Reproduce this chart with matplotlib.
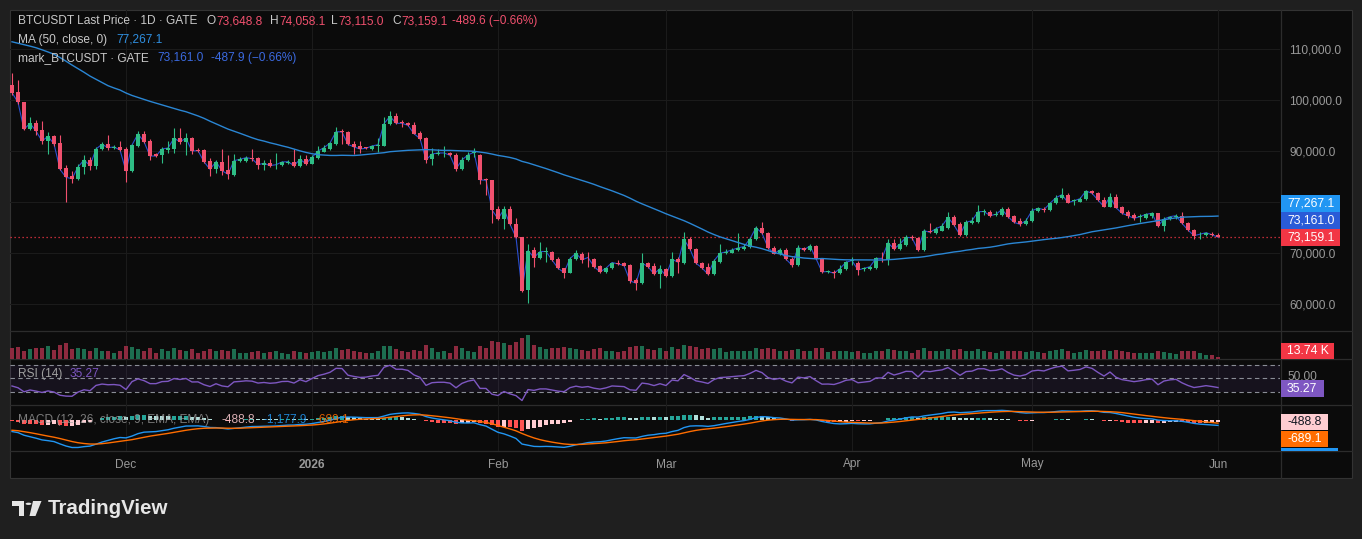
import numpy as np
import pandas as pd
import matplotlib
matplotlib.use("Agg")
import matplotlib.pyplot as plt
from matplotlib.patches import Rectangle, Polygon, Circle
from matplotlib.lines import Line2D

W, H = 1362, 539
FONT = "Liberation Sans"

# ---------------- data ----------------
start_date = "2025-11-12"

opens = [103000, 101560, 99600, 94380, 95490, 94110, 92090, 92940, 91570, 86730,
         85160, 84640, 86860, 88300, 87190, 90390, 91370, 90720, 90850, 90460,
         86210, 91110, 93400, 92090, 89410, 89220, 90260, 90520, 92550, 91890,
         92610, 90330, 90260, 88100, 86470, 87970, 86340, 85430, 88170, 88170,
         88690, 88690, 87380, 87650, 87250, 87250, 87710, 87840, 87190, 88500,
         87580, 88690, 89930, 90460, 91500, 93920, 93790, 91370, 90980, 90650,
         90390, 90980, 91040, 95360, 96860, 95680, 95620, 95160, 93590, 92610,
         88430, 89410, 89600, 89610, 89220, 86560, 88320, 89750, 89300, 84530,
         84400, 78650, 76760, 78720, 75780, 73160, 62840, 70680, 69050, 70250,
         70290, 68850, 67090, 66240, 68850, 69900, 69300, 68920, 67550, 66370,
         67090, 68200, 68070, 67680, 64800, 64150, 68070, 67550, 65910, 66890,
         65590, 68920, 68200, 72770, 70940, 68200, 67420, 65910, 68400, 70030,
         70160, 70620, 70880, 71200, 72840, 75060, 74080, 71140, 69900, 70680,
         68920, 67680, 71070, 70680, 71470, 68980, 66400, 66440, 66110, 66890,
         68500, 68050, 66950, 66870, 67070, 69030, 68700, 71970, 70860, 71640,
         73100, 73080, 70660, 74450, 73930, 74450, 74910, 77060, 75760, 73600,
         75890, 76210, 78170, 78170, 77450, 77520, 78630, 77320, 76340, 75690,
         76340, 78300, 78700, 78500, 79810, 80790, 81500, 80250, 80130, 80590,
         82220, 81770, 80460, 79150, 81110, 79020, 78040, 77520, 77150, 76870,
         77320, 77850, 75430, 76670, 77060, 77320, 76020, 74580, 73700, 73600,
         73760, 73648.8]
highs = [105290, 103980, 99750, 96660, 96140, 96010, 93720, 93130, 93130, 87320,
         86140, 87520, 89280, 88950, 90910, 91890, 93130, 91240, 92020, 90780,
         91440, 94050, 94050, 92480, 89670, 90910, 91960, 94500, 94500, 93530,
         92870, 90590, 90390, 88760, 88300, 90460, 89280, 89480, 88820, 89020,
         90520, 88820, 88300, 88430, 89740, 88100, 88230, 90460, 89280, 89280,
         89220, 91040, 91170, 91890, 94700, 94370, 94050, 92090, 92020, 90910,
         91300, 92550, 96790, 97840, 97450, 96140, 95810, 95680, 93920, 92870,
         90590, 90460, 91040, 89800, 89610, 88970, 89950, 90610, 89400, 84700,
         84450, 79310, 79310, 79310, 76890, 73300, 71860, 71340, 72320, 71340,
         70550, 69380, 67150, 69380, 70680, 70360, 70360, 69050, 67740, 67420,
         68400, 68720, 68400, 67870, 65130, 70030, 68400, 68070, 67740, 67220,
         70360, 69380, 74140, 73300, 71140, 68400, 68070, 68850, 71860, 70810,
         71010, 73950, 71860, 73300, 75380, 76100, 74270, 71470, 71010, 71010,
         69240, 71660, 71340, 71860, 71660, 69110, 66760, 66760, 67740, 68530,
         69350, 68570, 67390, 67600, 69220, 70330, 72820, 72820, 72950, 73600,
         73600, 73300, 74710, 76020, 75230, 76020, 78170, 77520, 76210, 76540,
         77190, 79480, 78630, 78500, 78300, 79020, 79020, 77520, 76870, 76870,
         78830, 79150, 79150, 80130, 81440, 82750, 81770, 80590, 80980, 82420,
         82420, 82090, 81110, 81900, 81640, 79280, 78500, 77850, 77650, 77850,
         78170, 77980, 77190, 77390, 77720, 78040, 76210, 74840, 74250, 74190,
         74250, 74058.1]
lows = [101000, 99300, 94100, 94200, 93200, 91440, 89410, 91100, 86340, 80140,
        83730, 84300, 85560, 86340, 86540, 90260, 90260, 90390, 90000, 83920,
        86000, 90900, 91700, 88300, 88820, 87780, 89740, 89610, 91500, 89350,
        89540, 89900, 87700, 85160, 85690, 85360, 84640, 85160, 88000, 87970,
        88170, 86540, 86400, 86860, 86540, 87100, 87580, 86860, 86860, 87400,
        87450, 88500, 89800, 90260, 91300, 91440, 91200, 89410, 89740, 90390,
        90200, 89930, 90980, 95200, 95290, 94830, 94900, 93300, 92300, 87780,
        87320, 89200, 88820, 89000, 86210, 86300, 88100, 88970, 83550, 81460,
        75910, 76500, 74730, 75500, 73000, 62520, 60230, 67420, 68900, 68400,
        68500, 66900, 65260, 66100, 68700, 68070, 67420, 67200, 66200, 66200,
        66950, 67800, 67450, 64150, 62840, 64000, 67200, 65800, 63170, 65400,
        65400, 66110, 68000, 70600, 67900, 67000, 65700, 65700, 68200, 69900,
        70000, 70400, 70700, 71000, 72600, 73800, 70900, 69800, 69700, 68700,
        67420, 67500, 70500, 70500, 68800, 66200, 66110, 65130, 65900, 66700,
        67720, 65760, 66540, 66700, 66900, 68370, 67720, 70700, 70700, 71500,
        72620, 70500, 70500, 74000, 73800, 74300, 74800, 75400, 73400, 73400,
        75700, 76000, 77520, 77200, 77390, 77400, 77000, 75900, 75360, 75550,
        76200, 78200, 78040, 78400, 79700, 80650, 79800, 79480, 80000, 80450,
        81600, 80300, 79000, 79000, 78800, 77700, 76870, 76540, 76210, 76700,
        76870, 75200, 74380, 76540, 76800, 75700, 74400, 72750, 72750, 73400,
        73500, 73115.0]
closes = [101500, 99600, 94310, 95490, 93980, 92020, 92940, 91440, 86470, 84900,
          84640, 86930, 88300, 87190, 90460, 91370, 90720, 90850, 90260, 86140,
          91240, 93400, 91890, 89080, 89080, 90460, 90650, 92550, 91890, 92550,
          90060, 90130, 87970, 86470, 87970, 86210, 85490, 88170, 88430, 88760,
          88560, 87380, 87650, 87190, 87380, 87910, 87970, 87190, 88430, 87580,
          88820, 90060, 90720, 91630, 93850, 93790, 91370, 90850, 90460, 90590,
          91040, 91300, 95420, 96860, 95490, 95490, 95090, 93460, 92480, 88300,
          89480, 89670, 89680, 89220, 86540, 88320, 89300, 89820, 84400, 84340,
          78520, 76760, 78650, 75710, 73160, 62710, 70550, 69180, 70360, 70360,
          68720, 67090, 66240, 68980, 70030, 68720, 69200, 67420, 66370, 67090,
          68200, 67940, 67610, 64610, 64150, 68070, 67420, 65980, 67020, 65590,
          68850, 68260, 72770, 70810, 68070, 67150, 65910, 68530, 70030, 70290,
          70680, 71070, 71340, 72840, 75060, 73950, 71140, 69960, 70680, 68850,
          67680, 71140, 70680, 71470, 68980, 66370, 66440, 66110, 67020, 68260,
          68600, 66740, 67050, 67390, 69030, 69000, 72100, 70860, 71840, 73140,
          73050, 70660, 74450, 74120, 74840, 75360, 77060, 75560, 73600, 76080,
          76410, 78170, 78200, 77390, 77650, 78630, 77190, 76080, 75690, 76410,
          78370, 78830, 78570, 79810, 80920, 81500, 79940, 80300, 80720, 82220,
          81770, 80460, 79150, 81110, 78960, 77850, 77390, 76870, 77200, 77650,
          77850, 75360, 76740, 77190, 77390, 75890, 74580, 73470, 73750, 74060,
          73648.7, 73159.1]
volumes_k = [80, 85, 60, 70, 75, 80, 90, 65, 100, 115,
             70, 75, 70, 60, 75, 55, 60, 40, 55, 90,
             85, 70, 60, 75, 45, 70, 55, 80, 65, 60,
             70, 45, 60, 70, 55, 65, 60, 70, 40, 45,
             50, 55, 45, 50, 55, 40, 35, 55, 50, 45,
             50, 55, 50, 60, 80, 65, 70, 60, 50, 40,
             45, 55, 95, 90, 70, 55, 50, 65, 60, 100,
             80, 50, 55, 45, 90, 80, 60, 50, 95, 80,
             130, 120, 110, 100, 120, 150, 170, 100, 85, 70,
             75, 80, 85, 80, 70, 65, 60, 70, 75, 60,
             55, 50, 55, 85, 90, 95, 70, 65, 80, 60,
             85, 70, 100, 90, 85, 70, 75, 70, 80, 50,
             55, 60, 55, 60, 75, 70, 80, 70, 60, 60,
             65, 70, 55, 60, 75, 80, 50, 55, 60, 55,
             50, 60, 40, 45, 55, 60, 70, 65, 60, 55,
             45, 65, 75, 60, 55, 60, 70, 65, 70, 60,
             55, 70, 55, 50, 45, 55, 60, 55, 55, 50,
             60, 50, 45, 55, 65, 70, 60, 45, 50, 65,
             55, 60, 65, 60, 65, 60, 50, 45, 40, 45,
             40, 60, 50, 40, 35, 55, 60, 55, 45, 30,
             25, 13.74]
# closes before the visible window (needed by the MA/RSI/MACD studies)
prior_closes = [115900, 115300, 115400, 116800, 116500, 117100, 115700, 115700, 115300, 112700,
                112000, 113300, 109000, 109600, 109700, 112100, 114400, 114100, 118600, 120600,
                122300, 122400, 123500, 124800, 121500, 123300, 121700, 113200, 110600, 115200,
                115300, 113100, 110800, 108200, 106500, 107200, 108600, 110600, 108500, 107600,
                110100, 111000, 111600, 114500, 114100, 112900, 110100, 108300, 109600, 110100,
                110600, 106500, 101600, 103900, 101300, 103400, 102300, 104700, 106000, 103000]

month_labels = ["Dec", "2026", "Feb", "Mar", "Apr", "May", "Jun"]
month_starts = ["2025-12-01", "2026-01-01", "2026-02-01", "2026-03-01",
                "2026-04-01", "2026-05-01", "2026-06-01"]
price_ticks = [60000, 70000, 90000, 100000, 110000]
grid_prices = [60000, 70000, 80000, 90000, 100000, 110000]
last_price = 73159.1

# ---------------- studies ----------------
def sma_series(a, n):
    out = np.full(len(a), np.nan)
    for i in range(n - 1, len(a)):
        out[i] = np.mean(a[i - n + 1:i + 1])
    return out

def ema_series(a, n):
    a = np.asarray(a, float)
    out = np.full(len(a), np.nan)
    idx = np.where(~np.isnan(a))[0]
    s = idx[0]
    out[s + n - 1] = np.mean(a[s:s + n])
    k = 2.0 / (n + 1)
    for i in range(s + n, len(a)):
        out[i] = a[i] * k + out[i - 1] * (1 - k)
    return out

def rma_series(a, n):
    out = np.full(len(a), np.nan)
    out[n - 1] = np.mean(a[:n])
    for i in range(n, len(a)):
        out[i] = (out[i - 1] * (n - 1) + a[i]) / n
    return out

all_close = np.array(prior_closes + closes, float)
P = len(prior_closes)
ma50 = sma_series(all_close, 50)[P:]
d = np.diff(all_close)
up = np.clip(d, 0, None)
dn = np.clip(-d, 0, None)
ru = rma_series(up, 14)
rd = rma_series(dn, 14)
rsi_all = np.concatenate([[np.nan], 100 - 100 / (1 + ru / rd)])
rsi = rsi_all[P:]
macd_all = ema_series(all_close, 12) - ema_series(all_close, 26)
sig_all = ema_series(macd_all, 9)
macd = macd_all[P:]
signal = sig_all[P:]
hist = macd - signal
hist_prev = (macd_all - sig_all)[P - 1:-1]

# ---------------- figure ----------------
n = len(closes)
x = np.arange(n)
dates = pd.date_range(start_date, periods=n, freq="D")
month_pos = [(pd.Timestamp(m) - dates[0]).days for m in month_starts]
XL = (-1 / 3, 211 + 1 / 3)

BG_OUT = "#1f1f1f"
BG = "#0b0b0b"
GRID = "#1b1b1b"
SEP = "#2c2c2c"
UP = "#2ebd85"
DOWN = "#f0506e"
VUP = "#1d6e50"
VDOWN = "#8e2a3f"
TXT = "#999999"

fig = plt.figure(figsize=(W / 100, H / 100), dpi=100, facecolor=BG_OUT)
renderer = fig.canvas.get_renderer()

def fx(px):
    return px / W

def fy(py):
    return 1 - py / H

def axes_px(x0, y0, x1, y1, z=1):
    ax = fig.add_axes([fx(x0), fy(y1), (x1 - x0) / W, (y1 - y0) / H], zorder=z)
    ax.set_facecolor("none")
    for s in ax.spines.values():
        s.set_visible(False)
    ax.set_xlim(*XL)
    ax.tick_params(left=False, bottom=False, right=False, labelleft=False, labelbottom=False)
    return ax

# chart background
fig.patches.append(Rectangle((fx(10), fy(478)), (1352 - 10) / W, (478 - 10) / H,
                             transform=fig.transFigure, facecolor=BG, edgecolor="#333333",
                             lw=0.8, zorder=0))

def hline(y, x0=10, x1=1352, c=SEP):
    fig.lines.append(Line2D([fx(x0), fx(x1)], [fy(y), fy(y)], transform=fig.transFigure,
                            color=c, lw=0.9, zorder=0.5))

def vline(xp, y0=10, y1=478, c=SEP):
    fig.lines.append(Line2D([fx(xp), fx(xp)], [fy(y0), fy(y1)], transform=fig.transFigure,
                            color=c, lw=0.9, zorder=0.5))

for yy in (331, 359, 405, 451):
    hline(yy)
vline(1280.5)

# ---- price pane ----
axp = axes_px(10, 10, 1280, 331, z=2)
axp.set_ylim(54783, 117699)
for g in grid_prices:
    axp.axhline(g, color=GRID, lw=0.8, zorder=0)
for m in month_pos:
    axp.axvline(m, color=GRID, lw=0.8, zorder=0)
axp.axhline(last_price, color="#f23645", lw=0.9, ls=(0, (1, 2.2)), zorder=1)

o = np.array(opens, float); c = np.array(closes, float)
h = np.array(highs, float); l = np.array(lows, float)
colors = [UP if cc >= oo else DOWN for oo, cc in zip(o, c)]
axp.plot(x, c, color="#2b4fd0", lw=0.8, zorder=2)
axp.vlines(x, l, h, colors=colors, lw=0.8, zorder=3)
body_b = np.minimum(o, c)
body_h = np.maximum(np.abs(c - o), 160)
axp.bar(x, body_h, bottom=body_b, width=0.72, color=colors, zorder=4, linewidth=0)
axp.plot(x, ma50, color="#2a86d4", lw=1.0, zorder=5)

axp.yaxis.tick_right()
axp.set_yticks(price_ticks)
axp.set_yticklabels([f"{t:,.1f}" for t in price_ticks])
axp.tick_params(right=False, labelright=True, pad=3.0, labelsize=8.6, labelcolor=TXT)
for t in axp.get_yticklabels():
    t.set_fontfamily(FONT)

# ---- volume pane ----
axv = axes_px(10, 331, 1280, 359)
vol = np.array(volumes_k, float)
axv.set_ylim(0, vol.max() * 28 / 24)
for m in month_pos:
    axv.axvline(m, color=GRID, lw=0.8, zorder=0)
axv.bar(x, vol, width=0.75, color=[VUP if cc == UP else VDOWN for cc in colors], linewidth=0)

# ---- RSI pane ----
axr = axes_px(10, 359, 1280, 405)
axr.set_ylim(10.07, 79.0)
for m in month_pos:
    axr.axvline(m, color=GRID, lw=0.8, zorder=0)
axr.axhspan(30, 70, color="#7e57c2", alpha=0.10, lw=0, zorder=0)
for lv in (70, 50, 30):
    axr.axhline(lv, color="#8a8d96", lw=0.8, ls=(0, (4, 3)), zorder=1)
axr.plot(x, rsi, color="#7e57c2", lw=1.0, zorder=2)

# ---- MACD pane ----
axm = axes_px(10, 405, 1280, 451)
s = -np.nanmin(macd) / 27.5
axm.set_ylim(-31 * s, 15 * s)
for m in month_pos:
    axm.axvline(m, color=GRID, lw=0.8, zorder=0)
hc = []
for hv, hp in zip(hist, hist_prev):
    if hv >= 0:
        hc.append("#26a69a" if hv > hp else "#b2dfdb")
    else:
        hc.append("#ff5252" if hv < hp else "#ffcdd2")
axm.bar(x, hist, width=0.75, color=hc, linewidth=0, zorder=2)
axm.plot(x, macd, color="#2196f3", lw=1.0, zorder=3)
axm.plot(x, signal, color="#ff6d00", lw=1.0, zorder=3)

# ---- x axis labels ----
axx = axes_px(10, 451, 1280, 478)
axx.set_ylim(0, 1)
for m, lab in zip(month_pos, month_labels):
    axx.text(m, 0.5, lab, ha="center", va="center", color=TXT, fontsize=8.6,
             fontfamily=FONT, fontweight="bold" if lab == "2026" else "normal")

# ---------------- texts ----------------
def ftext(xp, yp, s_, color, size=8.6, weight="normal", ha="left", z=10, alpha=1.0):
    return fig.text(fx(xp), fy(yp), s_, color=color, fontsize=size, fontweight=weight, ha=ha,
                    va="center", fontfamily=FONT, zorder=z, alpha=alpha)

def seq(xp, yp, parts, size=8.6, alpha=1.0):
    """draw text pieces one after another, starting at pixel xp"""
    cur = xp
    for s_, col in parts:
        t = ftext(cur, yp, s_, col, size=size, alpha=alpha)
        bb = t.get_window_extent(renderer)
        cur = bb.x1 + 0.5

LEG = "#c9c9c9"
RED = "#f0506e"
ftext(18, 21, "BTCUSDT Last Price · 1D · GATE", LEG)
seq(207, 21, [("O", LEG), ("73,648.8", RED)])
seq(270, 21, [("H", LEG), ("74,058.1", RED)])
seq(331, 21, [("L", LEG), ("73,115.0", RED)])
seq(392, 21, [("C", LEG), ("73,159.1", RED)])
ftext(452, 21, "-489.6 (\u22120.66%)", RED)
ftext(18, 40, "MA (50, close, 0)", LEG)
ftext(116, 40, "77,267.1", "#2f8fe0")
ftext(18, 58, "mark_BTCUSDT · GATE", LEG)
ftext(157, 58, "73,161.0", "#3b6ae0")
ftext(211, 58, "-487.9 (\u22120.66%)", "#3b6ae0")

ftext(18, 374, "RSI (14)", "#a0a0a0")
ftext(70, 374, "35.27", "#7e57c2")
ftext(18, 420, "MACD (12, 26, close, 9, EMA, EMA)", "#a0a0a0", alpha=0.75)
ftext(222, 420, "-488.8", "#ffcdd2", alpha=0.85)
ftext(263, 420, "-1,177.9", "#2196f3", alpha=0.85)
ftext(315, 420, "-689.1", "#ff6d00", alpha=0.85)

def label_box(yc, x1, s_, fc, tc="white", hh=8.3):
    fig.patches.append(Rectangle((fx(1281), fy(yc + hh)), (x1 - 1281) / W, 2 * hh / H,
                                 transform=fig.transFigure, facecolor=fc, edgecolor="none",
                                 zorder=8))
    ftext(1287, yc, s_, tc, size=8.8, z=9)

label_box(203.5, 1340, "77,267.1", "#2196f3")
label_box(220.5, 1340, "73,161.0", "#2a5bd7")
label_box(237.5, 1340, "73,159.1", "#f23645")
label_box(351.0, 1334, "13.74 K", "#f23645")
ftext(1287, 377, "50.00", TXT)
label_box(388.5, 1324, "35.27", "#7e57c2")
label_box(422.0, 1328, "-488.8", "#ffcdd2", tc="#131722")
label_box(439.0, 1328, "-689.1", "#ff6d00")
fig.patches.append(Rectangle((fx(1281), fy(451)), (1338 - 1281) / W, 3 / H,
                             transform=fig.transFigure, facecolor="#2196f3", edgecolor="none",
                             zorder=8))

# TradingView logo
LOGO = "#e6e6e6"
fig.patches.append(Polygon([(fx(12), fy(501)), (fx(24), fy(501)), (fx(24), fy(516)),
                            (fx(19), fy(516)), (fx(19), fy(506)), (fx(12), fy(506))],
                           closed=True, transform=fig.transFigure, facecolor=LOGO,
                           edgecolor="none", zorder=9))
fig.patches.append(Circle((fx(28.5), fy(503.8)), 2.9 / W, transform=fig.transFigure,
                          facecolor=LOGO, edgecolor="none", zorder=9))
fig.patches.append(Polygon([(fx(33), fy(501)), (fx(41.5), fy(501)), (fx(35.5), fy(516)),
                            (fx(29.5), fy(516))], closed=True, transform=fig.transFigure,
                           facecolor=LOGO, edgecolor="none", zorder=9))
ftext(48, 508.5, "TradingView", LOGO, size=14.8, weight="bold")

fig.savefig("out.png", dpi=100, facecolor=BG_OUT)
